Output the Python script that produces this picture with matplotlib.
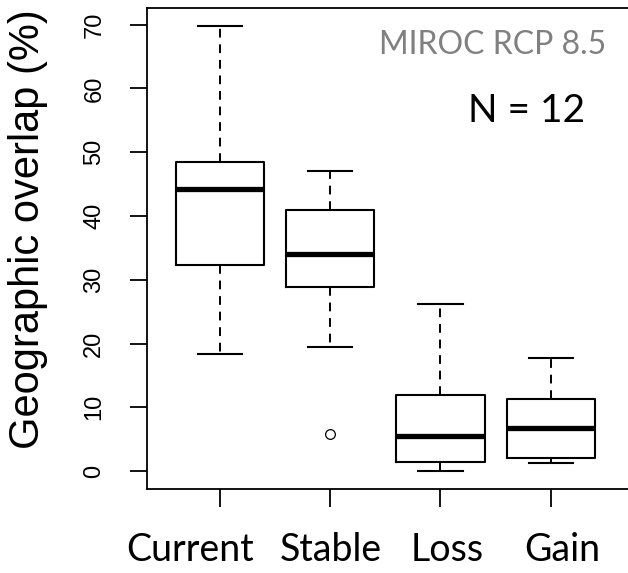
import matplotlib
matplotlib.use("Agg")
import matplotlib.pyplot as plt
from matplotlib.transforms import ScaledTranslation

# box statistics (%)
groups = ["Current", "Stable", "Loss", "Gain"]
whis_lo = [18.3, 19.4, 0.05, 1.2]
q1 = [32.3, 28.8, 1.5, 2.0]
medians = [44.2, 34.1, 5.5, 6.7]
q3 = [48.5, 41.0, 11.9, 11.3]
whis_hi = [69.8, 47.1, 26.2, 17.7]
outliers = [[], [5.85], [], []]

yticks = [0, 10, 20, 30, 40, 50, 60, 70]
# hand-placed group labels in the original, offsets in inches
label_dx = [-0.297, 0.01, 0.067, 0.113]

stats = []
for i, g in enumerate(groups):
    stats.append(dict(label=g, whislo=whis_lo[i], q1=q1[i], med=medians[i],
                      q3=q3[i], whishi=whis_hi[i], fliers=outliers[i]))

fig = plt.figure(figsize=(6.28, 5.73), dpi=100)
ax = fig.add_axes([147 / 628, 1 - 489 / 573, 1 - 147 / 628, (489 - 8) / 573])

ax.bxp(stats, positions=range(1, 5), widths=0.8, showfliers=True,
       boxprops=dict(color="black", linewidth=1.5),
       medianprops=dict(color="black", linewidth=3.8, solid_capstyle="butt"),
       whiskerprops=dict(color="black", linewidth=1.4, linestyle=(0, (4.5, 3.5))),
       capprops=dict(color="black", linewidth=1.5),
       capwidths=0.4,
       flierprops=dict(marker="o", markerfacecolor="none", markeredgecolor="black",
                       markersize=7, markeredgewidth=0.9))

ax.set_xlim(0.34, 4.70)
ax.set_ylim(-2.8, 72.6)
ax.spines["right"].set_visible(False)
for s in ["left", "top", "bottom"]:
    ax.spines[s].set_linewidth(1.3)

ax.set_yticks(yticks)
ax.set_yticklabels([str(v) for v in yticks], rotation=90, va="center",
                   fontsize=17, family="Liberation Sans", color="black")
ax.tick_params(axis="y", length=12, width=1.3, pad=18)
ax.tick_params(axis="x", length=13, width=1.3, pad=18)

ax.set_xticks(range(1, 5))
ax.set_xticklabels(groups, fontsize=27, family="Lato")
for lbl, dx in zip(ax.get_xticklabels(), label_dx):
    lbl.set_transform(lbl.get_transform() + ScaledTranslation(dx, 0, fig.dpi_scale_trans))

fig.text(28 / 628, 1 - 229 / 573, "Geographic overlap (%)", rotation=90,
         fontsize=30, family="Liberation Sans", ha="center", va="center")

ax.text(0.482, 0.923, "MIROC RCP 8.5", transform=ax.transAxes, fontsize=23,
        family="Lato", color="#808080", ha="left", va="center")
ax.text(0.667, 0.786, "N = 12", transform=ax.transAxes, fontsize=28,
        family="Lato", color="black", ha="left", va="center")

fig.savefig("out.png", dpi=100)
